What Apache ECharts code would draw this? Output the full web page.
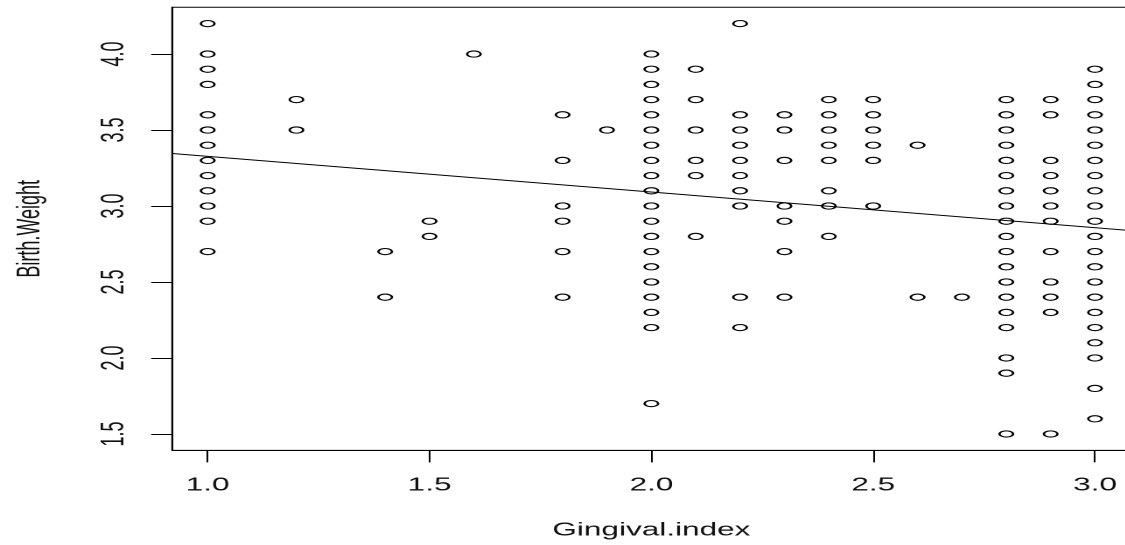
<!DOCTYPE html>
<html><head><meta charset="utf-8">
<script src="https://cdn.jsdelivr.net/npm/echarts@6/dist/echarts.min.js"></script>
<style>
html,body{margin:0;padding:0;background:#fff;overflow:hidden;}
#wrap{width:1125px;height:545px;overflow:hidden;position:relative;}
#chart{width:643px;height:545px;transform:scaleX(1.75);transform-origin:0 0;}
</style></head><body>
<div id="wrap"><div id="chart"></div></div>
<script>
const xTicks = [1.0, 1.5, 2.0, 2.5, 3.0];
const yTicks = [1.5, 2.0, 2.5, 3.0, 3.5, 4.0];
const xName = 'Gingival.index';
const yName = 'Birth.Weight';

const gingivalLevels = [1.0, 1.2, 1.4, 1.5, 1.6, 1.8, 1.9, 2.0, 2.1, 2.2, 2.3, 2.4, 2.5, 2.6, 2.7, 2.8, 2.9, 3.0];
const bw10 = [4.2, 4.0, 3.9, 3.8, 3.6, 3.5, 3.4, 3.3, 3.2, 3.1, 3.0, 2.9, 2.7];
const bw12 = [3.7, 3.5];
const bw14 = [2.7, 2.4];
const bw15 = [2.9, 2.8];
const bw16 = [4.0];
const bw18 = [3.6, 3.3, 3.0, 2.9, 2.7, 2.4];
const bw19 = [3.5];
const bw20 = [4.0, 3.9, 3.8, 3.7, 3.6, 3.5, 3.4, 3.3, 3.2, 3.1, 3.0, 2.9, 2.8, 2.7, 2.6, 2.5, 2.4, 2.3, 2.2, 1.7];
const bw21 = [3.9, 3.7, 3.5, 3.3, 3.2, 2.8];
const bw22 = [4.2, 3.6, 3.5, 3.4, 3.3, 3.2, 3.1, 3.0, 2.4, 2.2];
const bw23 = [3.6, 3.5, 3.3, 3.0, 2.9, 2.7, 2.4];
const bw24 = [3.7, 3.6, 3.5, 3.4, 3.3, 3.1, 3.0, 2.8];
const bw25 = [3.7, 3.6, 3.5, 3.4, 3.3, 3.0];
const bw26 = [3.4, 2.4];
const bw27 = [2.4];
const bw28 = [3.7, 3.6, 3.5, 3.4, 3.3, 3.2, 3.1, 3.0, 2.9, 2.8, 2.7, 2.6, 2.5, 2.4, 2.3, 2.2, 2.0, 1.9, 1.5];
const bw29 = [3.7, 3.6, 3.3, 3.2, 3.1, 3.0, 2.9, 2.7, 2.5, 2.4, 2.3, 1.5];
const bw30 = [3.9, 3.8, 3.7, 3.6, 3.5, 3.4, 3.3, 3.2, 3.1, 3.0, 2.9, 2.8, 2.7, 2.6, 2.5, 2.4, 2.3, 2.2, 2.1, 2.0, 1.8, 1.6];
const birthWeightsByLevel = [bw10, bw12, bw14, bw15, bw16, bw18, bw19, bw20, bw21, bw22, bw23, bw24, bw25, bw26, bw27, bw28, bw29, bw30];

// fitted regression line
const fitIntercept = 3.562;
const fitSlope = -0.235;

const xMin = 0.92, xMax = 3.08, yMin = 1.392, yMax = 4.308;

const points = [];
gingivalLevels.forEach((g, i) => birthWeightsByLevel[i].forEach(w => points.push([g, w])));
const fitLine = [xMin, xMax].map(x => [x, fitIntercept + fitSlope * x]);

const font = 'Liberation Sans, Arial, sans-serif';
const ink = '#111';

const chart = echarts.init(document.getElementById('chart'), null, {renderer: 'canvas', devicePixelRatio: 2});
chart.setOption({
  animation: false,
  backgroundColor: '#fff',
  grid: {
    left: 98.4, top: 7.2, width: 547.6, height: 443.2,
    show: true, borderColor: '#000', borderWidth: 1, backgroundColor: 'transparent',
    containLabel: false, outerBoundsMode: 'none'
  },
  xAxis: {
    type: 'value', min: xMin, max: xMax,
    name: xName, nameLocation: 'middle', nameGap: 71,
    nameTextStyle: {fontFamily: font, fontSize: 18, color: ink},
    axisLine: {show: true, lineStyle: {color: '#000', width: 1}},
    axisTick: {show: true, inside: false, length: 12, customValues: xTicks, lineStyle: {color: '#000', width: 1}},
    axisLabel: {show: true, margin: 26, customValues: xTicks, fontFamily: font, fontSize: 18, color: ink,
      formatter: v => Number(v).toFixed(1)},
    splitLine: {show: false}
  },
  yAxis: {
    type: 'value', min: yMin, max: yMax,
    name: yName, nameLocation: 'middle', nameGap: 72, nameRotate: 90,
    nameTextStyle: {fontFamily: font, fontSize: 18, color: ink},
    axisLine: {show: true, lineStyle: {color: '#000', width: 1}},
    axisTick: {show: true, inside: false, length: 12, customValues: yTicks, lineStyle: {color: '#000', width: 1}},
    axisLabel: {show: true, rotate: 90, margin: 24, customValues: yTicks, fontFamily: font, fontSize: 18, color: ink,
      formatter: v => Number(v).toFixed(1)},
    splitLine: {show: false}
  },
  series: [
    {
      type: 'scatter', data: points, silent: true,
      symbol: 'path://M1,0A1,1,0,1,1,-1,0A1,1,0,1,1,1,0Z',
      symbolSize: [7.8, 6.2],
      itemStyle: {color: 'rgba(0,0,0,0)', borderColor: '#000', borderWidth: 1.2, opacity: 1},
      z: 3
    },
    {
      type: 'line', data: fitLine, silent: true, symbol: 'none', clip: true,
      lineStyle: {color: '#000', width: 1}, z: 2
    }
  ]
});
</script>
</body></html>
